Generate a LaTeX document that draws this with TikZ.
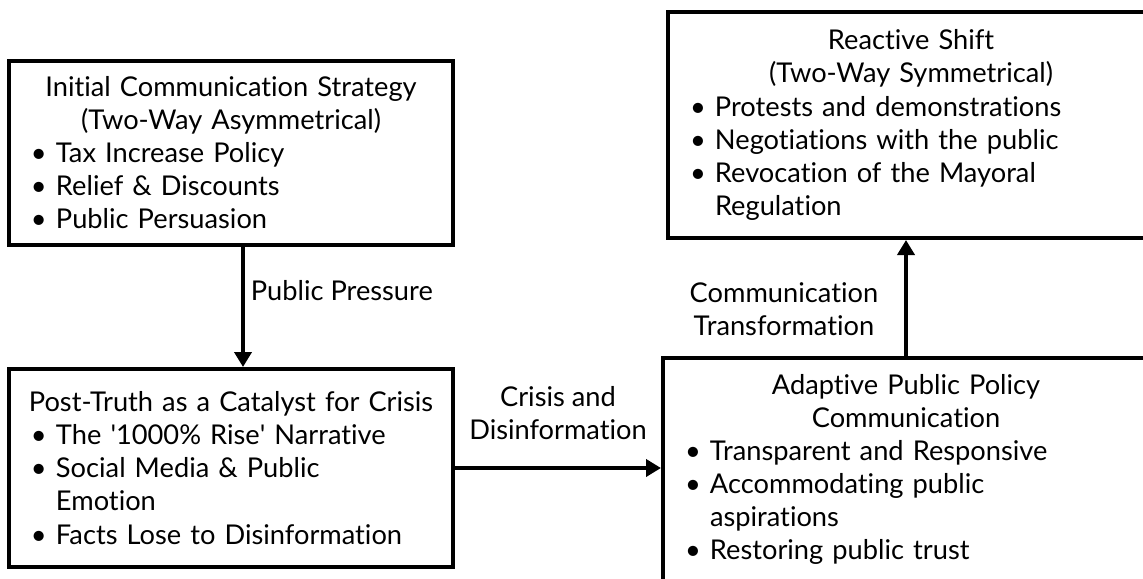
\documentclass[tikz,border=0pt]{standalone}
\usepackage{fontspec}
\setmainfont{Lato}[Ligatures={NoCommon,NoRequired,NoContextual}]
\usetikzlibrary{arrows.meta,positioning}

\newcommand{\itm}[1]{\par\hangindent=0.74cm\hangafter=1\noindent
	\hspace*{0.24cm}\makebox[0.5cm][l]{\textbullet}#1\par}
\newcommand{\heading}[1]{{\centering #1\par}}

\tikzset{
	stage/.style = {draw, line width=0.08cm, inner xsep=0.2cm, inner ysep=0pt,
		align=left, font=\fontsize{15.5}{18.8}\selectfont},
	flow/.style = {line width=0.08cm, -{Triangle[width=0.34cm,length=0.3cm]}},
	tag/.style = {align=center, font=\fontsize{15.5}{18.8}\selectfont}
}

\begin{document}
\begin{tikzpicture}[x=0.2mm, y=-0.2mm]
	\clip (0,0) rectangle (1143,578);
%The four stages
	\node[stage, minimum width=8.88cm, minimum height=3.68cm, text width=8.48cm]
		(initial) at (231,153) {\heading{Initial Communication Strategy\\(Two-Way Asymmetrical)}
		\itm{Tax Increase Policy}
		\itm{Relief \& Discounts}
		\itm{Public Persuasion}};
	\node[stage, minimum width=8.88cm, minimum height=3.96cm, text width=8.48cm]
		(posttruth) at (231,468) {\heading{Post-Truth as a Catalyst for Crisis}
		\itm{The \textquotesingle1000\% Rise\textquotesingle{} Narrative}
		\itm{Social Media \& Public\newline Emotion}
		\itm{Facts Lose to Disinformation}\vspace{0.3cm}};
	\node[stage, minimum width=9.72cm, minimum height=4.52cm, text width=9.32cm]
		(reactive) at (911,125) {\heading{Reactive Shift\\(Two-Way Symmetrical)}
		\itm{Protests and demonstrations}
		\itm{Negotiations with the public}
		\itm{Revocation of the Mayoral\newline Regulation}};
	\node[stage, minimum width=9.72cm, minimum height=4.46cm, text width=9.32cm]
		(adaptive) at (906,469.5) {\heading{Adaptive Public Policy\\Communication}
		\itm{Transparent and Responsive}
		\itm{Accommodating public\newline aspirations}
		\itm{Restoring public trust}};
%Arrows between the stages
	\draw[flow] ([xshift=0.24cm]initial.south) -- ([xshift=0.24cm]posttruth.north)
		node[tag, right, pos=0.36] (pressure) {Public Pressure};
	\draw[flow] (posttruth.east) -- (posttruth.east -| adaptive.west)
		node[tag, above=0.41cm, midway] (crisis) {Crisis and\\Disinformation};
	\draw[flow] (adaptive.north) -- (adaptive.north |- reactive.south)
		node[tag, left=0.4cm, pos=0.4] (transform) {Communication\\Transformation};
\end{tikzpicture}
\end{document}
